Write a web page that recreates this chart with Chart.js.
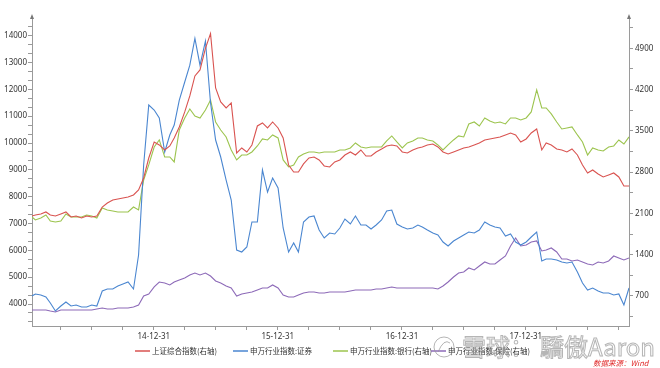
<!DOCTYPE html>
<html><head><meta charset="utf-8">
<script src="https://cdn.jsdelivr.net/npm/chart.js@4.4.1/dist/chart.umd.min.js"></script>
<style>html,body{margin:0;padding:0;background:#fff;}#c{display:block;}</style>
</head><body>
<canvas id="c" width="660" height="368"></canvas>
<script>
const dates = [
'2014-01-06','2014-01-16','2014-02-01','2014-02-16','2014-03-01','2014-03-16','2014-04-01','2014-04-16','2014-05-01','2014-05-16','2014-06-01','2014-06-16',
'2014-07-01','2014-07-16','2014-08-01','2014-08-16','2014-09-01','2014-09-16','2014-10-01','2014-10-16','2014-11-01','2014-11-16','2014-12-01','2014-12-16',
'2015-01-01','2015-01-16','2015-02-01','2015-02-16','2015-03-01','2015-03-16','2015-04-01','2015-04-16','2015-05-01','2015-05-16','2015-06-01','2015-06-16',
'2015-07-01','2015-07-16','2015-08-01','2015-08-16','2015-09-01','2015-09-16','2015-10-01','2015-10-16','2015-11-01','2015-11-16','2015-12-01','2015-12-16',
'2016-01-01','2016-01-16','2016-02-01','2016-02-16','2016-03-01','2016-03-16','2016-04-01','2016-04-16','2016-05-01','2016-05-16','2016-06-01','2016-06-16',
'2016-07-01','2016-07-16','2016-08-01','2016-08-16','2016-09-01','2016-09-16','2016-10-01','2016-10-16','2016-11-01','2016-11-16','2016-12-01','2016-12-16',
'2017-01-01','2017-01-16','2017-02-01','2017-02-16','2017-03-01','2017-03-16','2017-04-01','2017-04-16','2017-05-01','2017-05-16','2017-06-01','2017-06-16',
'2017-07-01','2017-07-16','2017-08-01','2017-08-16','2017-09-01','2017-09-16','2017-10-01','2017-10-16','2017-11-01','2017-11-16','2017-12-01','2017-12-16',
'2018-01-01','2018-01-16','2018-02-01','2018-02-16','2018-03-01','2018-03-16','2018-04-01','2018-04-16','2018-05-01','2018-05-16','2018-06-01','2018-06-16',
'2018-07-01','2018-07-16','2018-08-01','2018-08-16','2018-09-01','2018-09-16','2018-10-01','2018-10-16','2018-10-31'];

// 上证综合指数 (right axis)
const shComposite = [
2057,2074,2091,2125,2074,2057,2091,2125,2040,2057,2023,2057,2040,2057,2209,2277,2328,2345,2362,2379,2413,2498,2701,3040,
3312,3261,3176,3244,3380,3566,3821,4092,4431,4533,4900,5150,4228,3990,3888,3973,3125,3210,3142,3261,3583,3634,3549,3651,
3549,3380,2922,2803,2803,2939,3040,3057,3007,2905,2888,2973,3007,3091,3142,3091,3176,3074,3074,3142,3193,3244,3261,3244,
3142,3125,3176,3210,3227,3261,3278,3227,3142,3108,3142,3176,3210,3227,3261,3295,3346,3363,3380,3397,3431,3464,3431,3312,
3363,3464,3532,3176,3295,3261,3193,3176,3142,3193,3091,2922,2786,2837,2769,2718,2752,2786,2718,2566,2566];

// 申万行业指数:证券 (left axis)
const swSecurities = [
4298,4373,4335,4261,4037,3739,3925,4075,3925,3963,3888,3888,3963,3925,4485,4559,4559,4671,4745,4820,4559,5826,9181,11417,
11230,10932,9665,10299,10671,11603,12274,12900,13900,12900,13800,11500,10112,9479,8621,7876,6013,5938,6124,7056,7056,8994,8174,8696,
8323,6833,5938,6273,5938,7056,7242,7280,6758,6460,6646,6609,6833,7168,6982,7280,6944,6944,6795,6944,7131,7466,7503,6982,
6870,6795,6833,6944,6870,6758,6646,6572,6311,6162,6348,6460,6572,6683,6646,6758,7056,6944,6870,6833,6534,6609,6311,6199,
6311,6497,6683,5603,5677,5677,5640,5565,5528,5565,5193,4783,4522,4596,4485,4410,4410,4335,4373,3963,4596];

// 申万行业指数:银行 (right axis)
const swBanks = [
2040,1989,2023,2074,1972,1955,1972,2091,2040,2040,2040,2074,2057,2023,2192,2159,2142,2125,2125,2125,2209,2159,2667,2922,
3227,3346,3057,3057,2973,3515,3719,3872,3753,3719,3855,4024,3651,3515,3397,3176,3007,3091,3091,3142,3244,3363,3346,3431,
3380,3007,2888,2922,3057,3108,3142,3142,3125,3142,3142,3142,3176,3176,3210,3295,3227,3210,3227,3227,3227,3329,3414,3312,
3210,3295,3329,3380,3380,3346,3329,3261,3176,3261,3346,3414,3397,3617,3651,3583,3719,3668,3634,3651,3617,3719,3719,3685,
3719,3821,4194,3888,3888,3787,3651,3532,3549,3566,3431,3312,3091,3210,3176,3159,3227,3244,3346,3278,3397];

// 申万行业指数:保险 (right axis)
const swInsurance = [
463,463,463,463,446,429,463,463,463,463,463,463,463,480,496,480,480,496,496,496,513,547,700,734,
853,937,920,887,937,971,1005,1056,1090,1056,1090,1039,954,920,870,836,700,734,751,768,802,836,836,887,
836,717,683,683,717,751,768,768,751,751,768,768,768,768,785,802,802,802,802,819,819,836,853,836,
836,836,836,836,836,836,836,819,870,937,1022,1090,1107,1175,1141,1209,1277,1243,1243,1311,1378,1548,1684,1548,
1565,1616,1633,1463,1480,1514,1446,1328,1328,1294,1311,1277,1243,1226,1277,1260,1294,1378,1344,1311,1344];

const seriesNames = ['上证综合指数(右轴)','申万行业指数:证券','申万行业指数:银行(右轴)','申万行业指数:保险(右轴)'];
const seriesColors = ['#d95350','#4a86d0','#9cc44e','#8d6ab8'];

const xTickDates = ['2014-03-31','2014-06-30','2014-09-30','2014-12-31','2015-03-31','2015-06-30','2015-09-30','2015-12-31',
'2016-03-31','2016-06-30','2016-09-30','2016-12-31','2017-03-31','2017-06-30','2017-09-30','2017-12-31','2018-03-31','2018-06-30','2018-09-30'];
const leftTickLabels = [4000,5000,6000,7000,8000,9000,10000,11000,12000,13000,14000];
const rightTickLabels = [700,1400,2100,2800,3500,4200,4900];

const day = s => (Date.parse(s + 'T00:00:00Z') - Date.parse('2014-01-01T00:00:00Z')) / 864e5;
const pts = arr => arr.map((v, i) => ({x: day(dates[i]), y: v}));

const TICKFONT = "'Noto Sans','DejaVu Sans',sans-serif";
const CJK = "'Noto Sans CJK SC','Noto Sans',sans-serif";
const AXIS = '#9a9a9a';

function minorLeft() {
  const out = [];
  for (let k = -2; k <= 31; k++) out.push({value: 4000 + k * 1000 / 3, major: k % 3 === 0});
  return out;
}
function minorRight() {
  const out = [];
  for (let k = 1; k <= 15; k++) out.push({value: k * 350, major: k % 2 === 0});
  return out;
}

const decor = {
  id: 'decor',
  afterDraw(chart) {
    const c = chart.ctx, a = chart.chartArea;
    c.save();
    // axis top arrows
    c.fillStyle = '#777';
    [a.left, a.right].forEach(x => {
      c.beginPath(); c.moveTo(x, a.top - 4); c.lineTo(x - 2, a.top + 1); c.lineTo(x + 2, a.top + 1); c.closePath(); c.fill();
    });
    // legend
    const lx = [135, 233, 333, 431];
    const ly = 351;
    c.font = '7.5px ' + CJK;
    c.textBaseline = 'middle';
    c.textAlign = 'left';
    for (let i = 0; i < 4; i++) {
      c.strokeStyle = seriesColors[i]; c.lineWidth = 1.5;
      c.beginPath(); c.moveTo(lx[i], ly); c.lineTo(lx[i] + 15, ly); c.stroke();
      c.fillStyle = '#333';
      c.fillText(seriesNames[i], lx[i] + 17, ly);
    }
    // watermark
    c.strokeStyle = 'rgba(150,150,150,0.7)';
    c.lineWidth = 1;
    c.beginPath(); c.arc(444, 347, 10, 0, Math.PI * 2); c.stroke();
    c.beginPath(); c.moveTo(438, 352); c.quadraticCurveTo(444, 338, 450, 343); c.stroke();
    c.font = '24px ' + CJK;
    c.textBaseline = 'alphabetic';
    c.strokeText('雪球：', 462, 356);
    c.strokeText('驕傲Aaron', 540, 356);
    // source
    c.fillStyle = '#e02828';
    c.font = 'italic 7.5px ' + CJK;
    c.fillText('数据来源：Wind', 593, 366);
    c.restore();
  }
};

new Chart(document.getElementById('c').getContext('2d'), {
  type: 'line',
  data: {
    datasets: [
      {label: seriesNames[0], data: pts(shComposite), yAxisID: 'yR', borderColor: seriesColors[0]},
      {label: seriesNames[1], data: pts(swSecurities), yAxisID: 'yL', borderColor: seriesColors[1]},
      {label: seriesNames[2], data: pts(swBanks), yAxisID: 'yR', borderColor: seriesColors[2]},
      {label: seriesNames[3], data: pts(swInsurance), yAxisID: 'yR', borderColor: seriesColors[3]}
    ]
  },
  options: {
    responsive: false,
    animation: false,
    layout: {padding: {top: 18, left: 0, right: 0, bottom: 0}},
    elements: {point: {radius: 0}, line: {borderWidth: 1.1, tension: 0}},
    plugins: {legend: {display: false}, tooltip: {enabled: false}},
    scales: {
      x: {
        type: 'linear', position: 'bottom', min: 5, max: 1764,
        afterBuildTicks: s => { s.ticks = xTickDates.map(d => ({value: day(d)})); },
        afterFit: s => { s.height = 42; },
        ticks: {autoSkip: false, maxRotation: 0, minRotation: 0, padding: 2, color: '#333',
          font: {size: 8, family: TICKFONT},
          callback: (v, i) => xTickDates[i].endsWith('12-31') ? xTickDates[i].slice(2) : ''},
        grid: {drawOnChartArea: false, drawTicks: true, tickLength: 4, color: AXIS},
        border: {display: true, color: AXIS}
      },
      yL: {
        type: 'linear', position: 'left', min: 3180, max: 14660,
        afterBuildTicks: s => { s.ticks = minorLeft(); },
        afterFit: s => { s.width = 32; },
        ticks: {autoSkip: false, padding: 1, color: '#333', font: {size: 8, family: TICKFONT},
          callback: (v, i, t) => t[i].major ? String(Math.round(v)) : ''},
        grid: {drawOnChartArea: false, drawTicks: true, tickLength: 4, color: AXIS},
        border: {display: true, color: AXIS}
      },
      yR: {
        type: 'linear', position: 'right', min: 191, max: 5414,
        afterBuildTicks: s => { s.ticks = minorRight(); },
        afterFit: s => { s.width = 31; },
        ticks: {autoSkip: false, padding: 2, color: '#333', font: {size: 8, family: TICKFONT},
          callback: (v, i, t) => t[i].major ? String(Math.round(v)) : ''},
        grid: {drawOnChartArea: false, drawTicks: true, tickLength: 4, color: AXIS},
        border: {display: true, color: AXIS}
      }
    }
  },
  plugins: [decor]
});
</script>
</body></html>
